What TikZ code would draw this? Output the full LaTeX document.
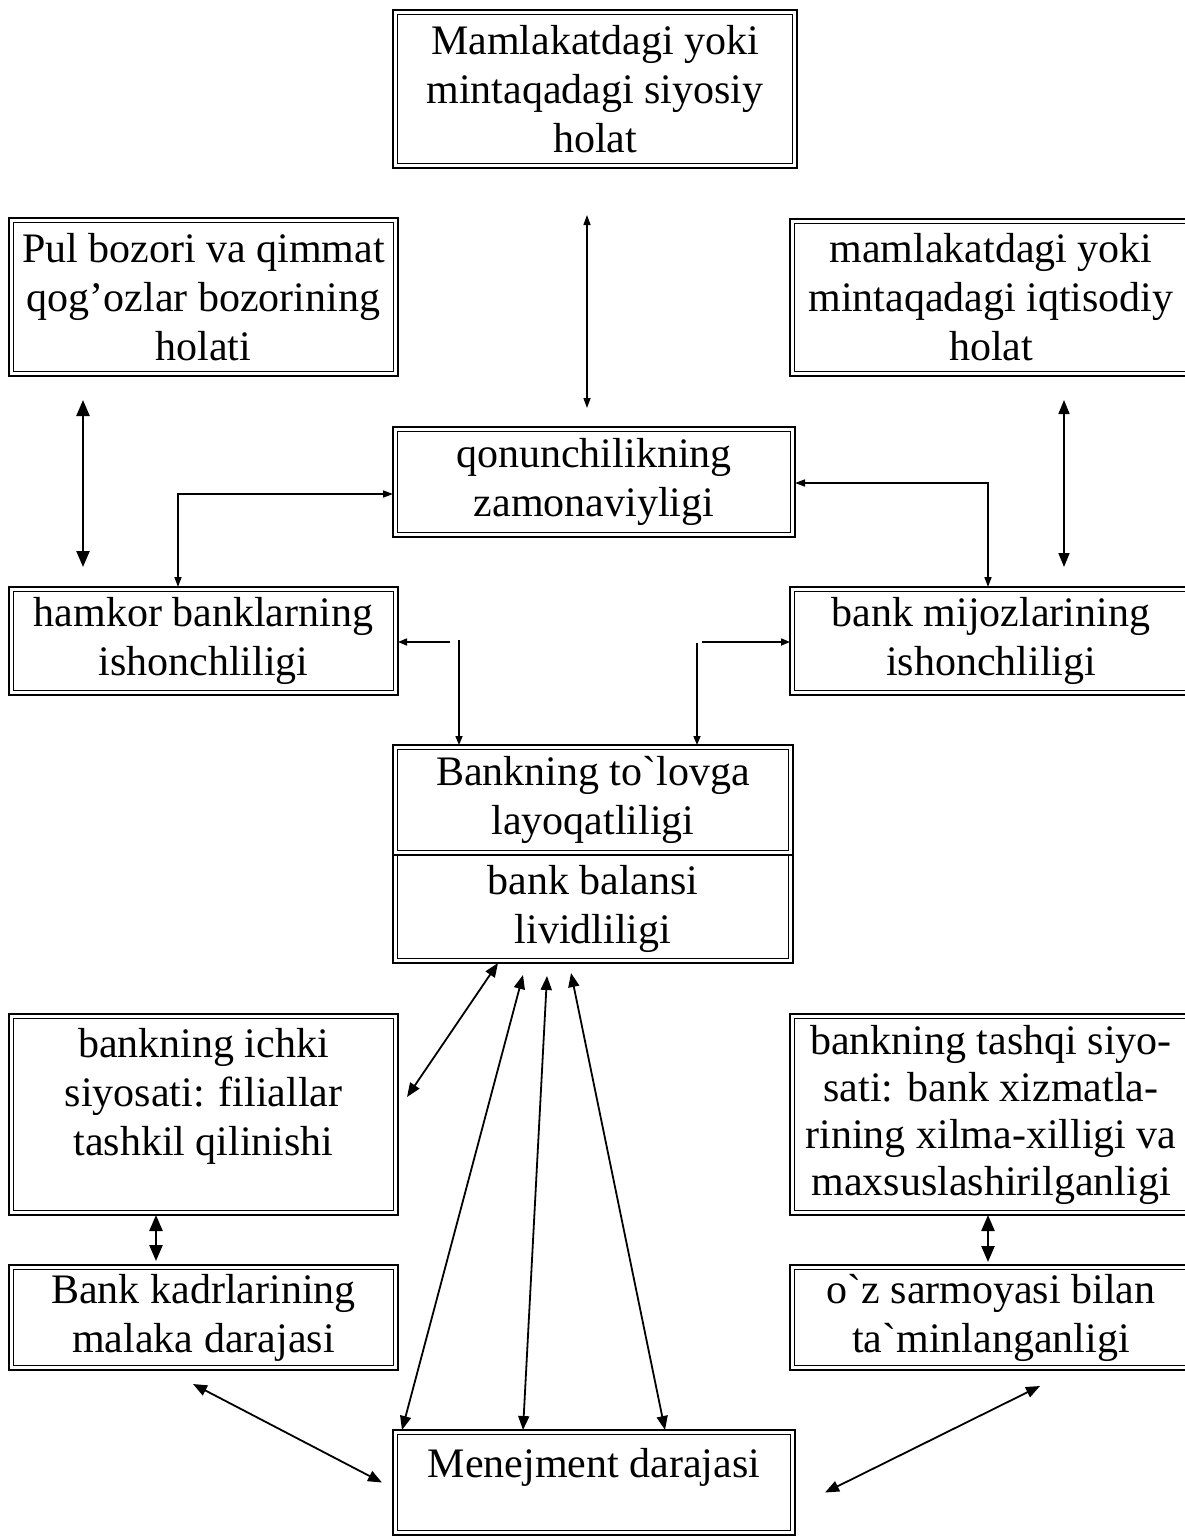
\documentclass[tikz,border=0pt]{standalone}
\usepackage{fontspec}
\setmainfont{Liberation Serif}[Ligatures=TeXOff]
\usetikzlibrary{arrows.meta,calc}
\begin{document}
\begin{tikzpicture}[x=1pt,y=-1pt,
  box/.style={draw, line width=2.4pt, inner sep=0pt, outer sep=0pt, align=center,
    font=\fontsize{42}{49}\selectfont},
  inbox/.style={line width=1.2pt},
  thin/.style={line width=1.3pt, >={Triangle[length=10pt,width=7pt]}, <->},
  mid/.style={line width=1.8pt, >={Triangle[length=14pt,width=11pt]}, <->},
  thick/.style={line width=2.4pt, >={Triangle[length=16pt,width=13pt]}, <->},
  one/.style={line width=1.6pt, >={Triangle[length=9pt,width=7pt]}, ->}
]
\useasboundingbox (0,0) rectangle (1185,1537);
\clip (0,0) rectangle (1185,1537);

% boxes
\node[box, minimum width=404pt, minimum height=158pt] (pol) at (595,89)
  {Mamlakatdagi yoki\\mintaqadagi siyosiy\\holat};
\node[box, minimum width=389pt, minimum height=158pt] (pul) at (203.5,297)
  {Pul bozori va qimmat\\qog’ozlar bozorining\\holati};
\node[box, minimum width=402pt, minimum height=157pt] (iqt) at (991,297.5)
  {mamlakatdagi yoki\\mintaqadagi iqtisodiy\\holat};
\node[box, minimum width=402pt, minimum height=110pt] (qon) at (594,482)
  {qonunchilikning\\zamonaviyligi};
\node[box, minimum width=389pt, minimum height=108pt] (ham) at (203.5,641)
  {hamkor banklarning\\ishonchliligi};
\node[box, minimum width=402pt, minimum height=108pt] (mij) at (991,641)
  {bank mijozlarining\\ishonchliligi};
\node[box, minimum width=400pt, minimum height=110pt] (tol) at (593,800)
  {Bankning to`lovga\\layoqatliligi};
\node[box, minimum width=400pt, minimum height=108pt] (bal) at (593,909)
  {bank balansi\\lividliligi};
\node[box, minimum width=389pt, minimum height=201pt] (ichki) at (203.5,1114.5)
  {\parbox[c][201pt][t]{385pt}{\centering\vspace*{14pt}bankning ichki\\siyosati: filiallar\\tashkil qilinishi}};
\node[box, minimum width=402pt, minimum height=201pt, font=\fontsize{42}{47}\selectfont] (tashqi) at (991,1114.5)
  {bankning tashqi siyo-\\sati: bank xizmatla-\\rining xilma-xilligi va\\maxsuslashirilganligi};
\node[box, minimum width=389pt, minimum height=105pt] (kadr) at (203.5,1317.5)
  {Bank kadrlarining\\malaka darajasi};
\node[box, minimum width=402pt, minimum height=105pt] (sarm) at (991,1317.5)
  {o`z sarmoyasi bilan\\ta`minlanganligi};
\node[box, minimum width=402pt, minimum height=105pt] (men) at (594,1482.5)
  {\parbox[c][105pt][t]{398pt}{\centering\vspace*{18pt}Menejment darajasi}};

% inner lines of the double frames
\foreach \n in {pol,pul,iqt,qon,ham,mij,tol,ichki,tashqi,kadr,sarm,men}
  \draw[inbox] ($(\n.north west)+(4.5,4.5)$) rectangle ($(\n.south east)+(-4.5,-4.5)$);
\draw[inbox] ($(bal.north west)+(4.5,0)$) |- ($(bal.south east)+(-4.5,-4.5)$) -- ($(bal.north east)+(-4.5,0)$);

% connectors
\draw[thin] ($(pol.south)+(-8,47)$) -- ($(qon.north)+(-7,-19)$);
\draw[thick] ($(pul.south)+(-120.5,24)$) -- ($(ham.north)+(-120.5,-20)$);
\draw[mid,line width=1.6pt] ($(iqt.south)+(73,24)$) -- ($(mij.north)+(73,-20)$);
\draw[thin,line width=1.6pt] ($(qon.west)+(0,12)$) -| ($(ham.north)+(-25.5,0)$);
\draw[thin,line width=1.6pt] ($(qon.east)+(0,1)$) -| ($(mij.north)+(-3,0)$);
\draw[one] ($(ham.east)+(52,1)$) -- ($(ham.east)+(0,1)$);
\draw[one] ($(tol.north)+(-134,-105)$) -- (tol.north -| {$(tol.north)+(-134,0)$});
\draw[one] ($(mij.west)+(-88,1)$) -- ($(mij.west)+(0,1)$);
\draw[one] ($(tol.north)+(104,-102)$) -- ($(tol.north)+(104,0)$);

\draw[mid] ($(bal.south)+(-95,0)$) -- ($(ichki.east)+(9,-17.5)$);
\draw[mid] ($(bal.south)+(-70,12)$) -- ($(men.north west)+(9,0)$);
\draw[mid] ($(bal.south)+(-46,13)$) -- ($(men.north)+(-71,0)$);
\draw[mid] ($(bal.south)+(-22,10)$) -- ($(men.north)+(71,0)$);

\draw[thick] (ichki.south -| {$(ichki.south)+(-47.5,0)$}) -- ($(kadr.north)+(-47.5,-4)$);
\draw[thick] ($(tashqi.south)+(-3,0)$) -- ($(sarm.north)+(-3,-3)$);
\draw[mid] ($(kadr.south)+(-10.5,14)$) -- ($(men.west)+(-11,0)$);
\draw[mid] ($(sarm.south)+(49,16)$) -- ($(men.east)+(30,10)$);
\end{tikzpicture}
\end{document}
